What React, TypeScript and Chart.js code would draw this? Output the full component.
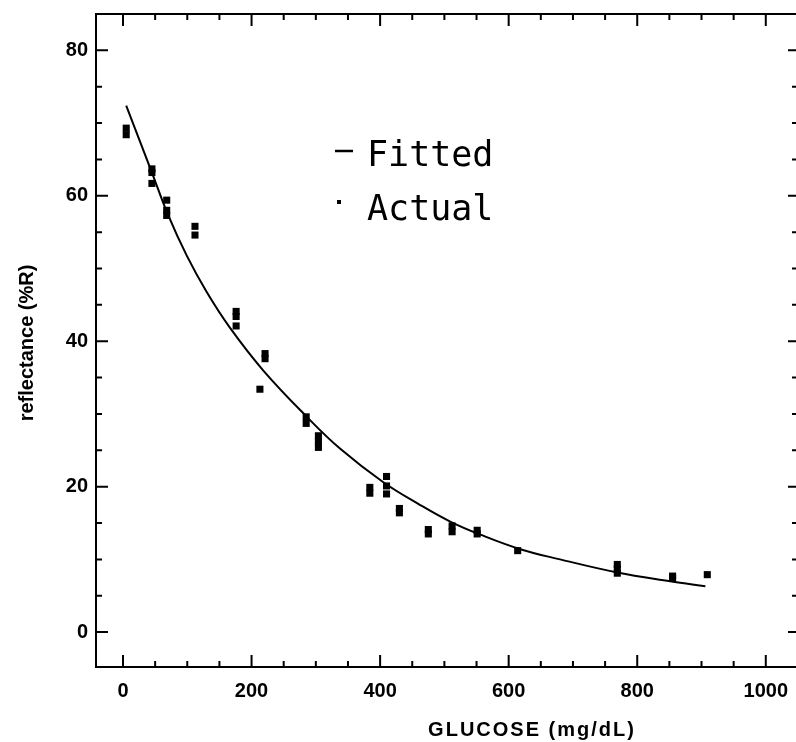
import React, { useEffect, useRef } from "react";
import { Chart, registerables } from "chart.js";

Chart.register(...registerables);

// Actual measurements (glucose mg/dL, reflectance %R)
const glucoseActual = [
  5, 5,
  45, 45, 45,
  68, 68, 68,
  112, 112,
  176, 176, 176,
  213,
  221, 221,
  285, 285,
  304, 304, 304,
  384, 384,
  410, 410, 410,
  430, 430,
  475, 475,
  512, 512,
  551, 551,
  614,
  769, 769, 769,
  855, 855,
  909,
];
const reflectanceActual = [
  69.3, 68.4,
  63.7, 63.2, 61.7,
  59.4, 58.0, 57.3,
  55.8, 54.6,
  44.1, 43.4, 42.1,
  33.4,
  38.3, 37.6,
  29.6, 28.7,
  27.0, 26.2, 25.4,
  19.9, 19.1,
  21.4, 20.1, 19.0,
  17.0, 16.4,
  14.1, 13.5,
  14.6, 13.8,
  14.0, 13.5,
  11.2,
  9.3, 8.7, 8.1,
  7.7, 7.4,
  7.9,
];

// Fitted curve
const glucoseFitted = [5, 45, 70, 99, 130, 166, 218, 286, 338, 405, 460, 509, 556, 618, 680, 769, 851, 906];
const reflectanceFitted = [72.4, 63.2, 57.4, 51.8, 46.8, 41.9, 36.0, 29.6, 25.2, 20.6, 17.6, 15.2, 13.4, 11.4, 10.0, 8.2, 7.0, 6.3];

const xTickValues = [0, 200, 400, 600, 800, 1000];
const yTickValues = [0, 20, 40, 60, 80];
const legendLabels = ["Fitted", "Actual"];
const xTitle = "GLUCOSE (mg/dL)";
const yTitle = "reflectance (%R)";

const LABEL_FONT = "'Liberation Sans', Arial, Helvetica, sans-serif";

export default function App() {
  const canvasRef = useRef<HTMLCanvasElement | null>(null);

  useEffect(() => {
    const canvas = canvasRef.current;
    if (!canvas) return;

    const framePlugin = {
      id: "framePlugin",
      afterDraw(chart: any) {
        const { ctx, chartArea } = chart;
        const xs = chart.scales.x;
        const ys = chart.scales.y;
        const { left, right, top, bottom } = chartArea;
        ctx.save();
        ctx.strokeStyle = "#000";
        ctx.fillStyle = "#000";
        ctx.lineWidth = 2;
        ctx.lineCap = "butt";
        // frame
        ctx.beginPath();
        ctx.moveTo(left, top);
        ctx.lineTo(left, bottom);
        ctx.moveTo(left - 1, bottom);
        ctx.lineTo(right, bottom);
        ctx.moveTo(left - 1, top);
        ctx.lineTo(right, top);
        ctx.stroke();
        // x ticks (inward), every 50
        ctx.beginPath();
        for (let v = 0; v <= 1000; v += 50) {
          const px = xs.getPixelForValue(v);
          const len = v % 200 === 0 ? 12 : 6;
          ctx.moveTo(px, bottom);
          ctx.lineTo(px, bottom - len);
          ctx.moveTo(px, top);
          ctx.lineTo(px, top + len);
        }
        // y ticks (inward), every 5
        for (let v = 0; v <= 85; v += 5) {
          const py = ys.getPixelForValue(v);
          const len = v % 20 === 0 ? 12 : 6;
          ctx.moveTo(left, py);
          ctx.lineTo(left + len, py);
          const rl = v % 20 === 0 ? 8 : 4;
          ctx.moveTo(right, py);
          ctx.lineTo(right - rl, py);
        }
        ctx.stroke();

        // axis titles
        ctx.font = `bold 20px ${LABEL_FONT}`;
        (ctx as any).letterSpacing = "2px";
        ctx.textAlign = "center";
        ctx.textBaseline = "middle";
        ctx.fillText(xTitle, 532, 730);
        (ctx as any).letterSpacing = "0px";
        ctx.save();
        ctx.translate(27, 343);
        ctx.rotate(-Math.PI / 2);
        ctx.font = `bold 20px ${LABEL_FONT}`;
        ctx.fillText(yTitle, 0, 0);
        ctx.restore();

        // legend
        ctx.font = "35px 'DejaVu Sans Mono', monospace";
        ctx.textAlign = "left";
        ctx.textBaseline = "alphabetic";
        ctx.fillText(legendLabels[0], 367, 166);
        ctx.fillText(legendLabels[1], 367, 220);
        ctx.lineWidth = 2.5;
        ctx.beginPath();
        ctx.moveTo(335, 151);
        ctx.lineTo(353, 151);
        ctx.stroke();
        ctx.fillRect(337, 200, 4, 4);
        ctx.restore();
      },
    };

    const chart = new Chart(canvas, {
      type: "scatter",
      data: {
        datasets: [
          {
            label: legendLabels[0],
            data: glucoseFitted.map((g, i) => ({ x: g, y: reflectanceFitted[i] })),
            showLine: true,
            borderColor: "#000",
            backgroundColor: "#000",
            borderWidth: 2,
            pointRadius: 0,
            tension: 0.4,
          } as any,
          {
            label: legendLabels[1],
            data: glucoseActual.map((g, i) => ({ x: g, y: reflectanceActual[i] })),
            showLine: false,
            pointStyle: "rect",
            pointRadius: 5,
            borderWidth: 0,
            backgroundColor: "#000",
            borderColor: "#000",
          } as any,
        ],
      },
      options: {
        responsive: false,
        animation: false,
        devicePixelRatio: 1,
        layout: { autoPadding: false, padding: { top: 14, right: 0, left: 0, bottom: 0 } },
        plugins: {
          legend: { display: false },
          tooltip: { enabled: false },
        },
        scales: {
          x: {
            type: "linear",
            min: -42,
            max: 1047,
            grid: { display: false, drawTicks: false },
            border: { display: false },
            afterBuildTicks: (scale: any) => {
              scale.ticks = xTickValues.map((v) => ({ value: v }));
            },
            afterFit: (scale: any) => {
              scale.height = 75;
              scale.paddingLeft = 0;
              scale.paddingRight = 0;
            },
            ticks: {
              autoSkip: false,
              maxRotation: 0,
              padding: 12,
              color: "#000",
              font: { family: LABEL_FONT, size: 20, weight: "bold" },
              callback: (v: any) => String(v),
            },
          },
          y: {
            type: "linear",
            min: -4.8,
            max: 85,
            grid: { display: false, drawTicks: false },
            border: { display: false },
            afterBuildTicks: (scale: any) => {
              scale.ticks = yTickValues.map((v) => ({ value: v }));
            },
            afterFit: (scale: any) => {
              scale.width = 96;
              scale.paddingTop = 0;
              scale.paddingBottom = 0;
            },
            ticks: {
              autoSkip: false,
              padding: 8,
              color: "#000",
              font: { family: LABEL_FONT, size: 20, weight: "bold" },
              callback: (v: any) => String(v),
            },
          },
        },
      } as any,
      plugins: [framePlugin],
    });

    return () => {
      chart.destroy();
    };
  }, []);

  return (
    <div style={{ position: "fixed", left: 0, top: 0, width: 796, height: 742, background: "#fff" }}>
      <canvas ref={canvasRef} width={796} height={742} style={{ display: "block", width: 796, height: 742 }} />
    </div>
  );
}
